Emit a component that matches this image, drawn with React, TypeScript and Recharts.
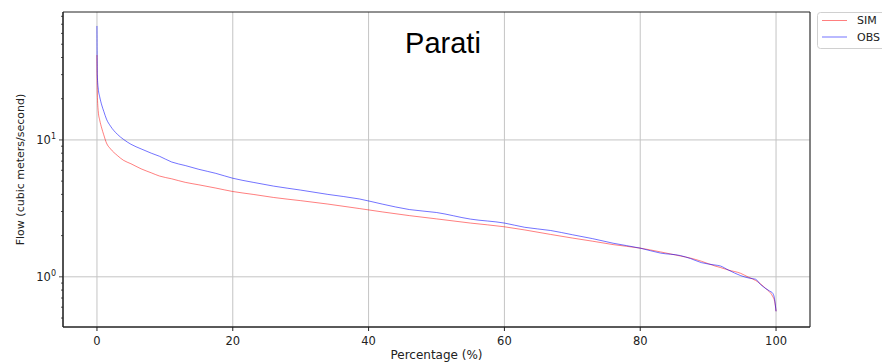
import { LineChart, Line, XAxis, YAxis, CartesianGrid, ReferenceArea } from 'recharts'

// exceedance percentage (%) and flows (m3/s)
const pct = [
  0, 0.05, 0.2, 0.4, 0.7, 1, 1.4, 2, 3, 3.9, 5, 6.5, 8, 9.2, 11, 13, 15, 17.5, 20, 23, 26, 30,
  34, 38.7, 42, 46, 50, 55, 60, 63, 66.8, 70, 73, 76, 80, 83, 85.9, 87.4, 89, 91, 91.8, 93,
  94.8, 96, 97, 97.7, 98.5, 99, 99.5, 99.8, 100,
]
const simFlow = [
  41.7, 22, 16, 14, 12.2, 10.9, 9.5, 8.6, 7.7, 7.1, 6.7, 6.15, 5.75, 5.45, 5.2, 4.9, 4.7, 4.45,
  4.2, 4.0, 3.8, 3.6, 3.4, 3.15, 2.98, 2.8, 2.65, 2.47, 2.32, 2.2, 2.04, 1.92, 1.82, 1.72, 1.62,
  1.52, 1.42, 1.37, 1.3, 1.2, 1.17, 1.12, 1.06, 0.99, 0.94, 0.89, 0.82, 0.78, 0.72, 0.66, 0.56,
]
const obsFlow = [
  68, 30, 23.5, 20.7, 18, 16.2, 14.2, 12.6, 11, 10.1, 9.3, 8.6, 8.0, 7.6, 6.9, 6.5, 6.1, 5.7, 5.25,
  4.9, 4.6, 4.3, 4.0, 3.7, 3.4, 3.1, 2.95, 2.64, 2.47, 2.3, 2.18, 2.03, 1.9, 1.76, 1.62, 1.49,
  1.43, 1.36, 1.27, 1.22, 1.2, 1.12, 1.02, 0.98, 0.96, 0.88, 0.82, 0.79, 0.76, 0.68, 0.56,
]

const xTicks = [0, 20, 40, 60, 80, 100]
const yMajor = [1, 10]
const yMinor = [0.5, 0.6, 0.7, 0.8, 0.9, 2, 3, 4, 5, 6, 7, 8, 9, 20, 30, 40, 50, 60, 70, 80]
const yExp: Record<number, string> = { 1: '0', 10: '1' }

const FONT = "'DejaVu Sans', sans-serif"

const chartData = pct.map((p, i) => ({ pct: p, sim: simFlow[i], obs: obsFlow[i] }))

function LogTick(props: any) {
  const { x, y, payload } = props
  const v = payload.value
  const major = yMajor.includes(v)
  return (
    <g>
      <line x1={x - (major ? 4 : 2)} x2={x} y1={y} y2={y} stroke="#222" strokeWidth={0.8} />
      {major && (
        <text x={x - 7} y={y} dy="0.35em" textAnchor="end" fontFamily={FONT} fontSize={11.5} fill="#222">
          10
          <tspan fontSize={8} dy={-5}>{yExp[v]}</tspan>
        </text>
      )}
    </g>
  )
}

export default function App() {
  return (
    <div style={{ position: 'absolute', left: 0, top: 0, width: 882, height: 363, background: '#fff' }}>
      <LineChart
        width={882}
        height={363}
        data={chartData}
        margin={{ top: 12, right: 72, bottom: 0, left: 0 }}
      >
        <CartesianGrid horizontalValues={yMajor} vertical={true} stroke="#c4c4c4" strokeWidth={1} />
        <XAxis
          dataKey="pct"
          type="number"
          domain={[-5, 105]}
          ticks={xTicks}
          interval={0}
          height={36}
          tickSize={4}
          tickMargin={6}
          stroke="#222"
          tick={{ fill: '#222', fontSize: 11.5, fontFamily: FONT }}
          label={{ value: 'Percentage (%)', position: 'center', dy: 10, fill: '#222', fontSize: 12, fontFamily: FONT }}
        />
        <YAxis
          type="number"
          scale="log"
          domain={[0.43, 86]}
          allowDataOverflow
          ticks={[...yMinor, ...yMajor].sort((a, b) => a - b)}
          interval={0}
          width={63}
          tickSize={0}
          tickMargin={0}
          tickLine={false}
          stroke="#222"
          tick={<LogTick />}
          label={{
            value: 'Flow (cubic meters/second)',
            angle: -90,
            position: 'center',
            dx: -11.5,
            fill: '#222',
            fontSize: 11,
            fontFamily: FONT,
          }}
        />
        <ReferenceArea x1={-5} x2={105} y1={0.43} y2={86} fill="none" stroke="#222" strokeWidth={1} />
        <Line
          type="monotone"
          dataKey="sim"
          stroke="#ff0000"
          strokeOpacity={0.5}
          strokeWidth={1}
          dot={false}
          isAnimationActive={false}
        />
        <Line
          type="monotone"
          dataKey="obs"
          stroke="#0000ff"
          strokeOpacity={0.55}
          strokeWidth={1}
          dot={false}
          isAnimationActive={false}
        />
      </LineChart>
      <svg
        width={882}
        height={363}
        style={{ position: 'absolute', left: 0, top: 0, pointerEvents: 'none' }}
      >
        <text x={443} y={53} textAnchor="middle" fontFamily="'Liberation Sans', Arial, sans-serif" fontSize={29} fill="#000">
          Parati
        </text>
        <rect x={817.5} y={12.5} width={80} height={36} rx={3} fill="#fff" fillOpacity={0.8} stroke="#d0d0d0" />
        <line x1={822} x2={847} y1={20.5} y2={20.5} stroke="#ff0000" strokeOpacity={0.5} />
        <text x={857} y={20.5} dy="0.35em" fontFamily={FONT} fontSize={11} fill="#222">SIM</text>
        <line x1={822} x2={847} y1={37} y2={37} stroke="#0000ff" strokeOpacity={0.55} />
        <text x={857} y={37} dy="0.35em" fontFamily={FONT} fontSize={11} fill="#222">OBS</text>
      </svg>
    </div>
  )
}
